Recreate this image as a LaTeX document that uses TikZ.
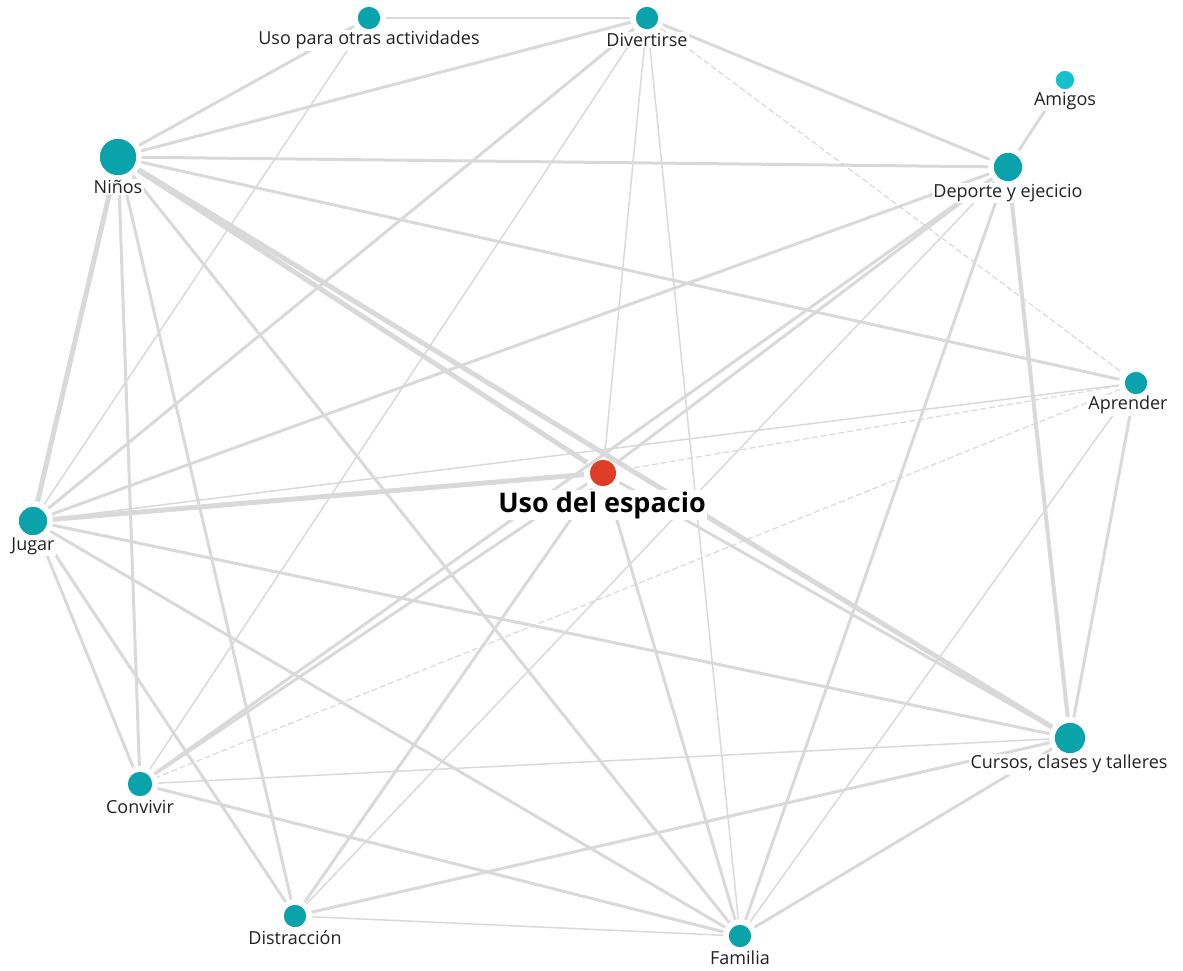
\documentclass[tikz,border=0pt]{standalone}
\usepackage{fontspec}
\setmainfont{Open Sans}
\definecolor{nodec}{HTML}{0AA2AB}
\definecolor{amic}{HTML}{14C1CC}
\definecolor{redc}{HTML}{E03D29}
\definecolor{edgec}{HTML}{D9D9D9}
\definecolor{labc}{HTML}{222222}
\begin{document}
\begin{tikzpicture}[x=1pt,y=-1pt,
  vert/.style={circle,fill=nodec,inner sep=0pt,minimum size=#1,outer sep=6pt},
  lab/.style={fill=white,inner sep=1.5pt,font=\fontsize{18}{18}\selectfont,text=labc},
  enorm/.style={draw=edgec,line width=3pt},
  ethin/.style={draw=edgec,line width=1.5pt},
  ethick/.style={draw=edgec,line width=5pt},
  edash/.style={draw=edgec,line width=1.2pt,dash pattern=on 6pt off 3pt}]
\useasboundingbox (0,0) rectangle (1183,970);
% vertices (used to anchor the edges)
\node[vert=22pt] (U)  at (369,18) {};
\node[vert=22pt] (D)  at (647,18) {};
\node[vert=18pt,fill=amic] (A) at (1065,80) {};
\node[vert=36pt] (N)  at (118,157) {};
\node[vert=28pt] (DE) at (1008,167) {};
\node[vert=22pt] (AP) at (1136,383) {};
\node[vert=26pt,fill=redc] (E) at (603,473) {};
\node[vert=28pt] (J)  at (33,521) {};
\node[vert=30pt] (C)  at (1070,738) {};
\node[vert=24pt] (CV) at (140,784) {};
\node[vert=22pt] (DI) at (295,916) {};
\node[vert=22pt] (F)  at (740,936) {};
% edges
\draw[enorm] (N) -- (U);
\draw[enorm] (N) -- (D);
\draw[enorm] (N) -- (DE);
\draw[enorm] (N) -- (AP);
\draw[ethick] (N) -- (E);
\draw[ethick] (N) -- (C);
\draw[enorm] (N) -- (F);
\draw[ethick] (N) -- (J);
\draw[enorm] (N) -- (CV);
\draw[enorm] (N) -- (DI);
\draw[ethin] (U) -- (D);
\draw[ethin] (U) -- (J);
\draw[enorm] (D) -- (J);
\draw[ethin] (D) -- (CV);
\draw[ethin] (D) -- (E);
\draw[ethin] (D) -- (F);
\draw[enorm] (D) -- (DE);
\draw[edash] (D) -- (AP);
\draw[enorm] (A) -- (DE);
\draw[enorm] (DE) -- (J);
\draw[enorm] (DE) -- (E);
\draw[enorm] (DE) -- (CV);
\draw[ethin] (DE) -- (DI);
\draw[enorm] (DE) -- (F);
\draw[line width=4pt,draw=edgec] (DE) -- (C);
\draw[ethin] (AP) -- (J);
\draw[edash] (AP) -- (E);
\draw[edash] (AP) -- (CV);
\draw[ethin] (AP) -- (F);
\draw[enorm] (AP) -- (C);
\draw[ethick] (J) -- (E);
\draw[enorm] (J) -- (C);
\draw[enorm] (J) -- (F);
\draw[enorm] (J) -- (CV);
\draw[enorm] (J) -- (DI);
\draw[enorm] (CV) -- (E);
\draw[ethin] (CV) -- (C);
\draw[enorm] (CV) -- (F);
\draw[enorm] (DI) -- (E);
\draw[enorm] (DI) -- (C);
\draw[ethin] (DI) -- (F);
\draw[enorm] (E) -- (F);
\draw[enorm] (E) -- (C);
\draw[enorm] (C) -- (F);
% labels
\node[lab] (Ul)  at (369,40)  {Uso para otras actividades};
\node[lab] (Dl)  at (647,40)  {Divertirse};
\node[lab] (Al)  at (1065,101) {Amigos};
\node[lab] (Nl)  at (118,187) {Niños};
\node[lab] (DEl) at (1008,193) {Deporte y ejecicio};
\node[lab] (APl) at (1128,405) {Aprender};
\node[lab,font=\fontsize{27}{27}\selectfont\bfseries,text=black] (El) at (602,505) {Uso del espacio};
\node[lab] (Jl)  at (33,546)  {Jugar};
\node[lab] (Cl)  at (1069,764) {Cursos, clases y talleres};
\node[lab] (CVl) at (140,807) {Convivir};
\node[lab] (DIl) at (295,938) {Distracción};
\node[lab] (Fl)  at (740,958) {Familia};
% vertices drawn on top
\foreach \n/\x/\y/\s/\c in {U/369/18/22/nodec, D/647/18/22/nodec, A/1065/80/18/amic, N/118/157/36/nodec, DE/1008/167/28/nodec, AP/1136/383/22/nodec, E/603/473/26/redc, J/33/521/28/nodec, C/1070/738/30/nodec, CV/140/784/24/nodec, DI/295/916/22/nodec, F/740/936/22/nodec}
  \fill[\c] (\x,\y) circle[radius=\s/2];
\end{tikzpicture}
\end{document}
